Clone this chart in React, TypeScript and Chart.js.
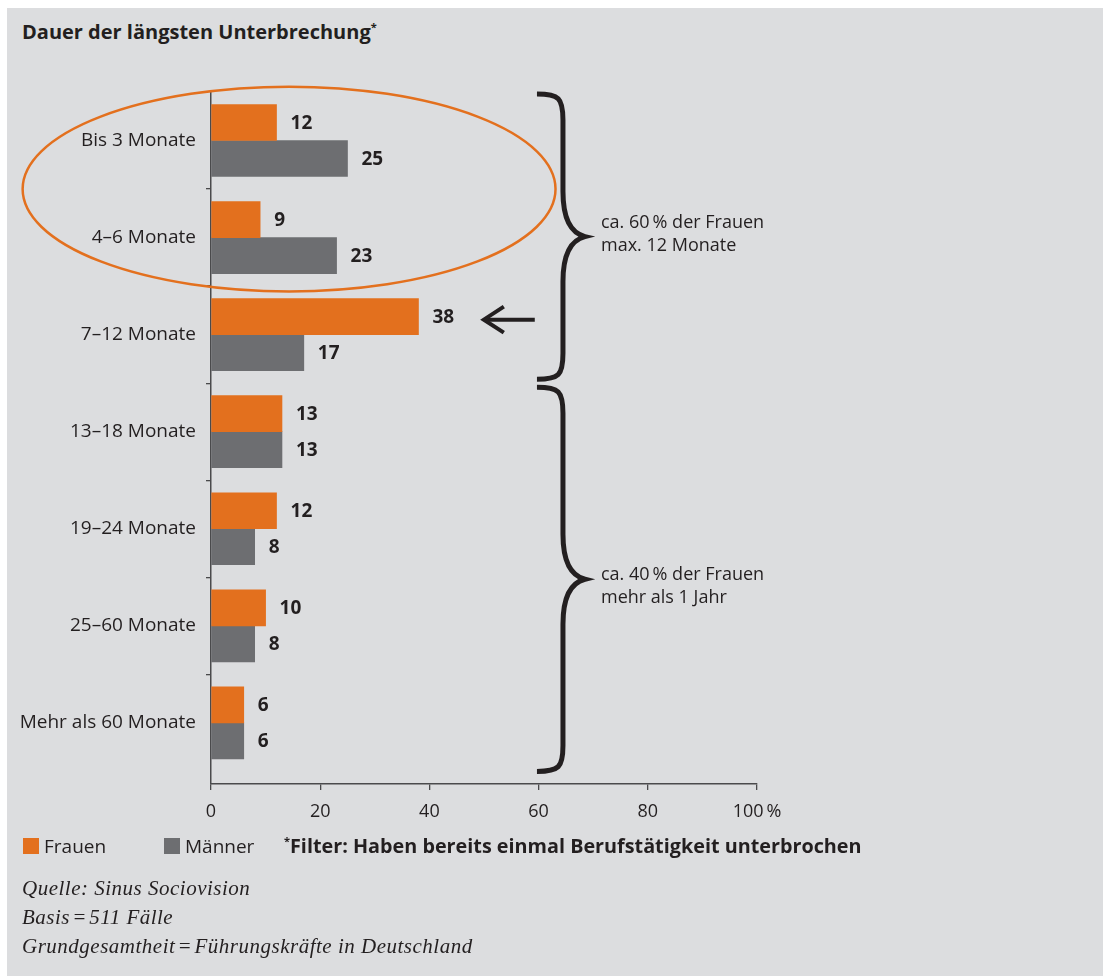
import React, { useEffect, useRef } from 'react';
import { Chart, registerables } from 'chart.js';

Chart.register(...registerables);

// ---- data ----
const categories = [
  'Bis 3 Monate',
  '4–6 Monate',
  '7–12 Monate',
  '13–18 Monate',
  '19–24 Monate',
  '25–60 Monate',
  'Mehr als 60 Monate',
];
const frauen = [12, 9, 38, 13, 12, 10, 6];
const maenner = [25, 23, 17, 13, 8, 8, 6];
const seriesNames = ['Frauen', 'Männer'];
const xTickValues = [0, 20, 40, 60, 80, 100];
const xTickLabels = ['0', '20', '40', '60', '80', '100\u2009%'];
const title = 'Dauer der längsten Unterbrechung';
const filterNote = 'Filter: Haben bereits einmal Berufstätigkeit unterbrochen';
const braceUpper = ['ca. 60\u2009% der Frauen', 'max. 12 Monate'];
const braceLower = ['ca. 40\u2009% der Frauen', 'mehr als 1 Jahr'];
const sources = [
  'Quelle: Sinus Sociovision',
  'Basis\u200A=\u200A511 Fälle',
  'Grundgesamtheit\u200A=\u200AFührungskräfte in Deutschland',
];

// ---- styles ----
const BG = '#dcdddf';
const ORANGE = '#e3701e';
const GREY = '#6d6e71';
const TEXT = '#231f20';
const AXIS = '#4a4a4c';
const FONT = '"Open Sans", "Noto Sans", sans-serif';

function drawBrace(ctx: CanvasRenderingContext2D, x0: number, yA: number, yB: number) {
  const x1 = x0 + 26;
  const x2 = x0 + 48;
  const ym = (yA + yB) / 2;
  ctx.beginPath();
  ctx.moveTo(x0, yA);
  ctx.bezierCurveTo(x0 + 22, yA, x1, yA + 4, x1, yA + 26);
  ctx.lineTo(x1, ym - 45);
  ctx.bezierCurveTo(x1, ym - 14, x1 + 10, ym - 3, x2, ym);
  ctx.bezierCurveTo(x1 + 10, ym + 3, x1, ym + 14, x1, ym + 45);
  ctx.lineTo(x1, yB - 26);
  ctx.bezierCurveTo(x1, yB - 4, x0 + 22, yB, x0, yB);
  ctx.stroke();
}

const overlayPlugin = {
  id: 'overlay',
  afterDatasetsDraw(chart: any) {
    const ctx: CanvasRenderingContext2D = chart.ctx;
    const xs = chart.scales.x;
    const ys = chart.scales.y;
    ctx.save();

    // value labels
    ctx.font = `bold 19px ${FONT}`;
    ctx.fillStyle = TEXT;
    ctx.textBaseline = 'middle';
    ctx.textAlign = 'left';
    chart.data.datasets.forEach((ds: any, di: number) => {
      const meta = chart.getDatasetMeta(di);
      meta.data.forEach((el: any, i: number) => {
        ctx.fillText(String(ds.data[i].x), el.x + 14, el.y + 1);
      });
    });

    // ellipse around the first two categories
    const cx = xs.getPixelForValue(14.3);
    const rx = xs.getPixelForValue(14.3 + 48.8) - cx;
    const cy = ys.getPixelForValue(0.5);
    const ry = ys.getPixelForValue(1.555) - cy;
    ctx.strokeStyle = ORANGE;
    ctx.lineWidth = 2.5;
    ctx.beginPath();
    ctx.ellipse(cx, cy, rx, ry, 0, 0, Math.PI * 2);
    ctx.stroke();

    // braces
    ctx.strokeStyle = TEXT;
    ctx.lineWidth = 5;
    const bx = xs.getPixelForValue(59.7);
    const u0 = ys.getPixelForValue(-0.5) + 2;
    const u1 = ys.getPixelForValue(2.5) - 4;
    const l0 = ys.getPixelForValue(2.5) + 4;
    const l1 = ys.getPixelForValue(6.5);
    drawBrace(ctx, bx, u0, u1);
    drawBrace(ctx, bx, l0, l1);

    // brace notes
    ctx.font = `18px ${FONT}`;
    ctx.fillStyle = TEXT;
    ctx.textBaseline = 'middle';
    const tx = bx + 64;
    const um = (u0 + u1) / 2;
    const lm = (l0 + l1) / 2;
    ctx.fillText(braceUpper[0], tx, um - 14);
    ctx.fillText(braceUpper[1], tx, um + 9);
    ctx.fillText(braceLower[0], tx, lm - 4);
    ctx.fillText(braceLower[1], tx, lm + 19);

    // arrow pointing to 7–12 Monate (Frauen)
    const el = chart.getDatasetMeta(0).data[2];
    const ay = el.y + 3;
    const ax0 = xs.getPixelForValue(49.6);
    const ax1 = xs.getPixelForValue(59.3);
    ctx.lineWidth = 4;
    ctx.lineJoin = 'miter';
    ctx.beginPath();
    ctx.moveTo(ax0 + 3, ay);
    ctx.lineTo(ax1, ay);
    ctx.stroke();
    ctx.beginPath();
    ctx.moveTo(ax0 + 22, ay - 13);
    ctx.lineTo(ax0 + 2, ay);
    ctx.lineTo(ax0 + 22, ay + 13);
    ctx.stroke();

    ctx.restore();
  },
};

export default function App() {
  const ref = useRef<HTMLCanvasElement>(null);

  useEffect(() => {
    if (!ref.current) return;
    const chart = new Chart(ref.current, {
      type: 'bar',
      data: {
        datasets: [
          {
            label: seriesNames[0],
            data: frauen.map((v, i) => ({ x: v, y: i })),
            backgroundColor: ORANGE,
            borderWidth: 0,
          },
          {
            label: seriesNames[1],
            data: maenner.map((v, i) => ({ x: v, y: i })),
            backgroundColor: GREY,
            borderWidth: 0,
          },
        ],
      },
      options: {
        indexAxis: 'y',
        responsive: false,
        animation: false,
        devicePixelRatio: 1,
        datasets: { bar: { barThickness: 36, grouped: true } },
        layout: { padding: { left: 12, right: 346, top: 84, bottom: 152 } },
        plugins: {
          legend: { display: false },
          tooltip: { enabled: false },
          title: { display: false },
        },
        scales: {
          x: {
            type: 'linear',
            min: 0,
            max: 100,
            offset: false,
            afterBuildTicks: (scale: any) => {
              scale.ticks = xTickValues.map((v) => ({ value: v }));
            },
            afterFit: (scale: any) => {
              scale.height = 40;
            },
            ticks: {
              callback: (_v: any, i: number) => xTickLabels[i],
              color: TEXT,
              font: { family: FONT, size: 18 },
              padding: 11,
              maxRotation: 0,
            },
            grid: {
              drawOnChartArea: false,
              drawTicks: true,
              tickLength: 6,
              color: AXIS,
              tickColor: AXIS,
              lineWidth: 1.3,
            },
            border: { display: true, color: AXIS, width: 1.5 },
          },
          y: {
            type: 'linear',
            reverse: true,
            offset: false,
            min: -0.5,
            max: 6.63,
            afterBuildTicks: (scale: any) => {
              scale.ticks = categories.map((_c, i) => ({ value: i }));
            },
            afterFit: (scale: any) => {
              scale.width = 192;
            },
            ticks: {
              callback: (_v: any, i: number) => categories[i],
              color: TEXT,
              font: { family: FONT, size: 19 },
              padding: 10,
            },
            grid: {
              offset: true,
              drawOnChartArea: false,
              drawTicks: true,
              tickLength: 5,
              color: (c: any) => (c.index === 0 || c.index === undefined ? 'rgba(0,0,0,0)' : AXIS),
              tickColor: (c: any) => (c.index === 0 || c.index === undefined ? 'rgba(0,0,0,0)' : AXIS),
              lineWidth: 1.3,
            },
            border: { display: true, color: AXIS, width: 1.5 },
          },
        },
      } as any,
      plugins: [overlayPlugin],
    });
    return () => chart.destroy();
  }, []);

  const sq = (c: string) => ({
    display: 'inline-block',
    width: 16,
    height: 16,
    background: c,
    position: 'absolute' as const,
    top: 1,
  });

  return (
    <div
      style={{
        position: 'fixed',
        left: 7,
        top: 8,
        right: 0,
        bottom: 0,
        background: BG,
        overflow: 'hidden',
        fontFamily: FONT,
        color: TEXT,
      }}
    >
      <div
        style={{
          position: 'absolute',
          left: 15,
          top: 14,
          fontSize: 20,
          lineHeight: '20px',
          fontWeight: 700,
          whiteSpace: 'nowrap',
        }}
      >
        {title}
        <span style={{ fontSize: 11, position: 'relative', top: -8 }}>*</span>
      </div>
      <canvas ref={ref} width={1096} height={968} style={{ position: 'absolute', left: 0, top: 0 }} />
      <div style={{ position: 'absolute', left: 16, top: 829, height: 19, fontSize: 19, lineHeight: '19px', whiteSpace: 'nowrap', width: 1000 }}>
        <span style={sq(ORANGE)} />
        <span style={{ position: 'absolute', left: 21 }}>{seriesNames[0]}</span>
        <span style={{ ...sq(GREY), left: 141 }} />
        <span style={{ position: 'absolute', left: 162 }}>{seriesNames[1]}</span>
        <span style={{ position: 'absolute', left: 261, fontWeight: 700, fontSize: 19.8, top: -1 }}>
          <span style={{ fontSize: 11, position: 'relative', top: -8 }}>*</span>
          {filterNote}
        </span>
      </div>
      <div
        style={{
          position: 'absolute',
          left: 15,
          top: 866,
          fontFamily: '"Liberation Serif", serif',
          fontStyle: 'italic',
          fontSize: 21,
          letterSpacing: '0.5px',
          lineHeight: '29px',
          whiteSpace: 'nowrap',
        }}
      >
        {sources.map((s) => (
          <div key={s}>{s}</div>
        ))}
      </div>
    </div>
  );
}
